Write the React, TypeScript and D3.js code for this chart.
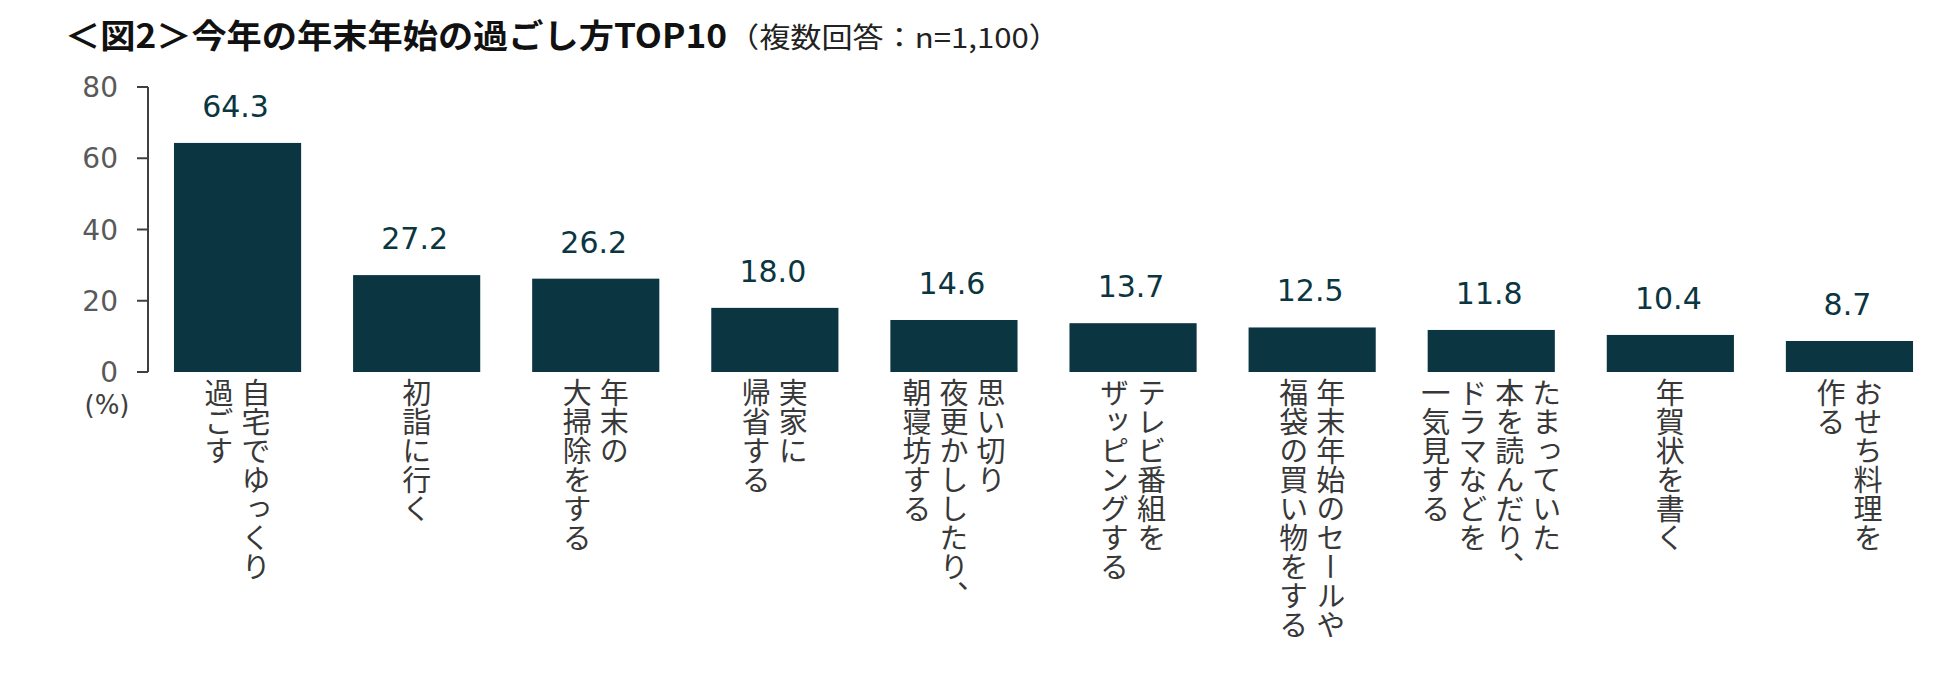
import React from 'react';
import * as d3 from 'd3';

const categories = [
  '自宅でゆっくり過ごす',
  '初詣に行く',
  '年末の大掃除をする',
  '実家に帰省する',
  '思い切り夜更かししたり、朝寝坊する',
  'テレビ番組をザッピングする',
  '年末年始のセールや福袋の買い物をする',
  'たまっていた本を読んだり、ドラマなどを一気見する',
  '年賀状を書く',
  'おせち料理を作る',
];

const labelLines = [
  ['自宅でゆっくり', '過ごす'],
  ['初詣に行く'],
  ['年末の', '大掃除をする'],
  ['実家に', '帰省する'],
  ['思い切り', '夜更かししたり、', '朝寝坊する'],
  ['テレビ番組を', 'ザッピングする'],
  ['年末年始のセールや', '福袋の買い物をする'],
  ['たまっていた', '本を読んだり、', 'ドラマなどを', '一気見する'],
  ['年賀状を書く'],
  ['おせち料理を', '作る'],
];

const values = [64.3, 27.2, 26.2, 18.0, 14.6, 13.7, 12.5, 11.8, 10.4, 8.7];
const yTicks = [0, 20, 40, 60, 80];

const titleMain = '＜図2＞今年の年末年始の過ごし方TOP10';
const titleSub = '（複数回答：n=1,100）';
const unitLabel = '(%)';

export default function App() {
  const W = 1950;
  const H = 675;
  const axisX = 148;
  const x = d3
    .scaleBand<string>()
    .domain(categories)
    .range([axisX, 1939])
    .paddingInner(0.29)
    .paddingOuter(0.145);
  const y = d3.scaleLinear().domain([0, 80]).range([372, 87]);
  const barColor = '#0b3641';
  const latin = "'DejaVu Sans', Verdana, sans-serif";
  const cjk = "'Noto Sans CJK JP', 'Noto Sans', sans-serif";
  const lineGap = 37;

  return (
    <svg
      width={W}
      height={H}
      style={{ position: 'absolute', left: 0, top: 0, background: '#fff' }}
    >
      <rect x={0} y={0} width={W} height={H} fill="#fff" />
      {/* Title */}
      <text
        x={65}
        y={48}
        fontFamily={cjk}
        fontWeight={700}
        fontSize={33}
        fill="#111"
        textLength={662}
        lengthAdjust="spacingAndGlyphs"
      >
        {titleMain}
      </text>
      <text
        x={728}
        y={48}
        fontFamily={cjk}
        fontWeight={400}
        fontSize={28}
        fill="#222"
        textLength={332}
        lengthAdjust="spacingAndGlyphs"
      >
        {titleSub}
      </text>

      {/* Y axis */}
      <line x1={axisX} x2={axisX} y1={y(80)} y2={y(0)} stroke="#404040" strokeWidth={2} />
      {yTicks.map((t) => (
        <g key={t}>
          <line x1={axisX - 11} x2={axisX} y1={y(t)} y2={y(t)} stroke="#404040" strokeWidth={2} />
          <text
            x={118}
            y={y(t)}
            dy="0.36em"
            textAnchor="end"
            fontFamily={latin}
            fontSize={28}
            fill="#595959"
          >
            {t}
          </text>
        </g>
      ))}
      <text x={107} y={414} textAnchor="middle" fontFamily={latin} fontSize={26} fill="#404040">
        {unitLabel}
      </text>

      {/* Bars */}
      {categories.map((c, i) => (
        <rect
          key={c}
          x={x(c)}
          y={y(values[i])}
          width={x.bandwidth()}
          height={y(0) - y(values[i])}
          fill={barColor}
        />
      ))}

      {/* Value labels */}
      {categories.map((c, i) => (
        <text
          key={'v' + c}
          x={(x(c) as number) + x.bandwidth() / 2 - 2}
          y={y(values[i]) - 26}
          textAnchor="middle"
          fontFamily={latin}
          fontSize={30}
          fill={barColor}
        >
          {values[i].toFixed(1)}
        </text>
      ))}

      {/* Category labels (vertical) */}
      {categories.map((c, i) => {
        const cx = (x(c) as number) + x.bandwidth() / 2;
        const lines = labelLines[i];
        const n = lines.length;
        return (
          <g key={'l' + c}>
            {lines.map((ln, j) => (
              <text
                key={j}
                x={cx + ((n - 1) / 2 - j) * lineGap}
                y={378}
                fontFamily={cjk}
                fontSize={29}
                fill="#383838"
                style={{ writingMode: 'vertical-rl' as any }}
              >
                {ln}
              </text>
            ))}
          </g>
        );
      })}
    </svg>
  );
}
